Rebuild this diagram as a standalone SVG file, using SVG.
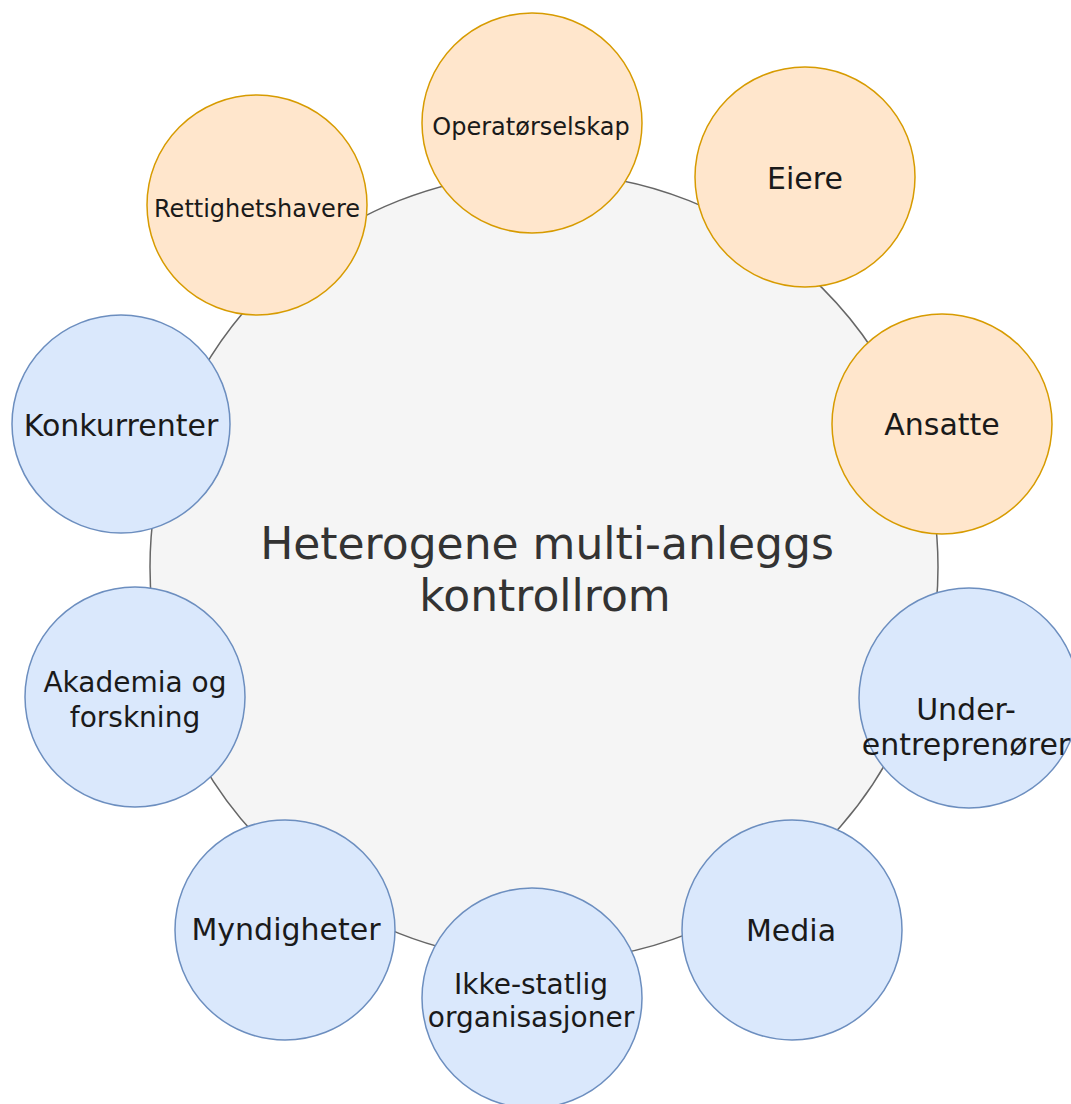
<svg xmlns="http://www.w3.org/2000/svg" width="1071" height="1104" viewBox="0 0 1071 1104">
<style>
.bg{fill:#ffffff}
.hub{fill:#f5f5f5;stroke:#666666;stroke-width:1.5}
.org{fill:#ffe6cc;stroke:#d79b00;stroke-width:1.5}
.blu{fill:#dae8fc;stroke:#6c8ebf;stroke-width:1.5}
text{font-family:"DejaVu Sans","Verdana",sans-serif;fill:#1a1a1a;text-anchor:middle}
.title{font-size:44px;fill:#333333}
.s24{font-size:24px}
.s28{font-size:28px}
.s30{font-size:30px}
</style>
<rect class="bg" x="0" y="0" width="1071" height="1104"/>
<g id="connectors">
<circle id="hub" class="hub" cx="544" cy="567" r="394"/>
</g>
<g id="hub-label">
<text class="title" x="547" y="559">Heterogene multi-anleggs</text>
<text class="title" x="545" y="611">kontrollrom</text>
</g>
<g id="node-operatorselskap">
<circle class="org" cx="532" cy="123" r="110"/>
<text class="s24" x="531" y="135">Operatørselskap</text>
</g>
<g id="node-eiere">
<circle class="org" cx="805" cy="177" r="110"/>
<text class="s30" x="805" y="189">Eiere</text>
</g>
<g id="node-ansatte">
<circle class="org" cx="942" cy="424" r="110"/>
<text class="s30" x="942" y="435">Ansatte</text>
</g>
<g id="node-underentreprenorer">
<circle class="blu" cx="969" cy="698" r="110"/>
<text class="s30" x="966" y="720">Under-</text>
<text class="s30" x="966" y="755">entreprenører</text>
</g>
<g id="node-media">
<circle class="blu" cx="792" cy="930" r="110"/>
<text class="s30" x="791" y="941">Media</text>
</g>
<g id="node-ikkestatlig">
<circle class="blu" cx="532" cy="998" r="110"/>
<text class="s28" x="531" y="994">Ikke-statlig</text>
<text class="s28" x="531" y="1027">organisasjoner</text>
</g>
<g id="node-myndigheter">
<circle class="blu" cx="285" cy="930" r="110"/>
<text class="s30" x="286" y="940">Myndigheter</text>
</g>
<g id="node-akademia">
<circle class="blu" cx="135" cy="697" r="110"/>
<text class="s28" x="135" y="692">Akademia og</text>
<text class="s28" x="135" y="727">forskning</text>
</g>
<g id="node-konkurrenter">
<circle class="blu" cx="121" cy="424" r="109"/>
<text class="s30" x="121" y="436">Konkurrenter</text>
</g>
<g id="node-rettighetshavere">
<circle class="org" cx="257" cy="205" r="110"/>
<text class="s24" x="257" y="217">Rettighetshavere</text>
</g>
</svg>
